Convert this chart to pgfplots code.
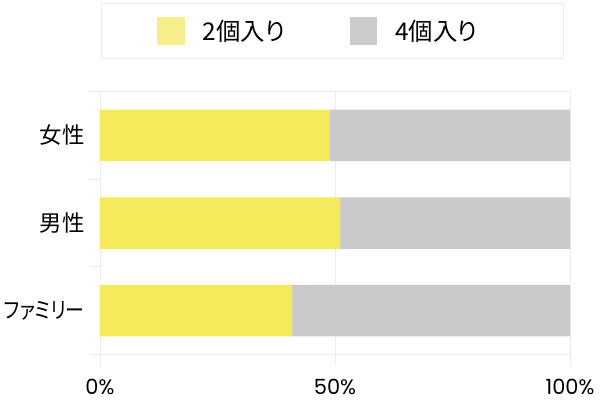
\documentclass[border=0pt]{standalone}
\usepackage{fontspec}
\setmainfont{Noto Sans CJK JP}[RawFeature=+palt]
\newfontfamily\tickfont{Poppins}
\usepackage{pgfplots}
\pgfplotsset{compat=1.18}
\definecolor{baryellow}{RGB}{245,234,90}
\definecolor{bargray}{RGB}{202,202,202}
\definecolor{legyellow}{RGB}{247,238,140}
\definecolor{leggray}{RGB}{203,203,203}
\definecolor{gridgray}{RGB}{236,236,236}
\begin{document}
\begin{tikzpicture}
\useasboundingbox (-100bp,-45.5bp) rectangle (500bp,354.5bp);
\begin{axis}[
  at={(0,0)}, anchor=south west,
  scale only axis, width=470bp, height=263bp,
  xbar stacked, bar width=51.5bp,
  xmin=0, xmax=100, ymin=-0.5, ymax=2.5,
  axis line style={draw=gridgray, line width=0.8bp},
  xtick={0,50,100}, xticklabels={0\%,50\%,100\%},
  xtick pos=bottom, ytick pos=left,
  xmajorgrids, grid style={draw=gridgray, line width=0.8bp},
  tick align=outside, major tick length=10bp,
  tick style={draw=gridgray, line width=0.8bp},
  xticklabel style={font=\tickfont\fontsize{21}{24}\selectfont, inner sep=0.5bp,
     text height=15bp, text depth=0pt, yshift=-14bp},
  ytick={-0.5,0.5,1.5,2.5}, yticklabels={},
  extra y ticks={0,1,2},
  extra y tick labels={\scalebox{0.84}[1]{ファミリー},男性,女性},
  extra y tick style={major tick length=0pt, ymajorgrids=false,
     yticklabel style={font=\fontsize{22.5}{25}\selectfont, xshift=-12bp}},
  legend columns=2,
  legend style={at={(0.4947,1.231)}, anchor=center, draw=gridgray, line width=0.8bp,
    inner xsep=55.5bp, inner ysep=13.7bp,
    font=\fontsize{24.5}{27}\selectfont,
    nodes={inner sep=0pt},
    /tikz/every odd column/.append style={column sep=18bp},
    /tikz/every even column/.append style={column sep=64bp}},
  legend image code/.code={\fill[#1] (0bp,-13.8bp) rectangle (27.6bp,13.8bp);},
]
\addplot+[fill=baryellow, draw=none, forget plot] coordinates {(48.8,2) (51.1,1) (40.9,0)};
\addplot+[fill=bargray, draw=none, forget plot] coordinates {(51.2,2) (48.9,1) (59.1,0)};
\addlegendimage{fill=legyellow, draw=none}
\addlegendentry{2個入り}
\addlegendimage{fill=leggray, draw=none}
\addlegendentry{4個入り\kern30bp}
\end{axis}
\end{tikzpicture}
\end{document}
